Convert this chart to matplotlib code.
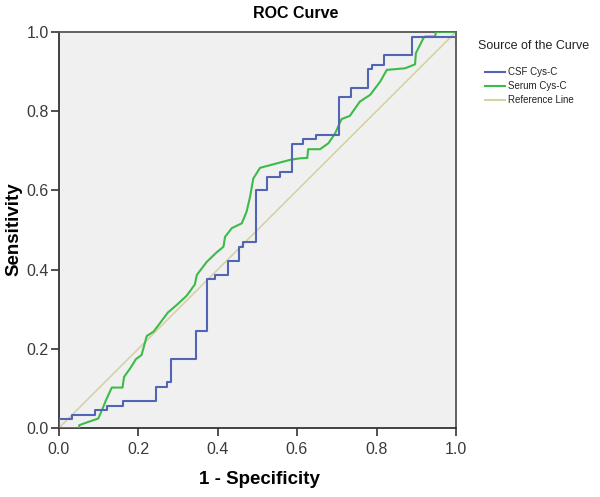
import matplotlib
matplotlib.use("Agg")
import matplotlib.pyplot as plt
from matplotlib.lines import Line2D

# CSF Cys-C ROC (step vertices: at x the curve rises to y)
csf_x = [0, 0, 0.033, 0.092, 0.123, 0.163, 0.245, 0.272, 0.282, 0.345, 0.374, 0.394,
         0.426, 0.455, 0.465, 0.497, 0.525, 0.557, 0.587, 0.616, 0.648, 0.706, 0.736,
         0.778, 0.788, 0.820, 0.890, 1.0]
csf_y = [0, 0.023, 0.034, 0.046, 0.056, 0.070, 0.104, 0.118, 0.175, 0.245, 0.376, 0.387,
         0.422, 0.458, 0.471, 0.600, 0.635, 0.647, 0.717, 0.729, 0.741, 0.836, 0.859,
         0.905, 0.916, 0.941, 0.988, 1.0]

# Serum Cys-C ROC
serum_x = [0, 0.052, 0.052, 0.071, 0.100, 0.104, 0.113, 0.119, 0.134, 0.161, 0.165, 0.180,
           0.195, 0.209, 0.222, 0.239, 0.255, 0.275, 0.297, 0.322, 0.343, 0.348, 0.373,
           0.398, 0.415, 0.419, 0.436, 0.461, 0.473, 0.482, 0.490, 0.507, 0.582, 0.607,
           0.626, 0.628, 0.658, 0.679, 0.696, 0.712, 0.733, 0.758, 0.784, 0.809, 0.826,
           0.872, 0.897, 0.899, 0.918, 0.922, 0.947, 0.950, 1.0]
serum_y = [0, 0, 0.008, 0.015, 0.025, 0.034, 0.055, 0.070, 0.103, 0.103, 0.130, 0.151,
           0.175, 0.185, 0.233, 0.244, 0.265, 0.292, 0.311, 0.334, 0.363, 0.387, 0.420,
           0.444, 0.458, 0.483, 0.505, 0.517, 0.546, 0.584, 0.630, 0.657, 0.677, 0.681,
           0.682, 0.704, 0.704, 0.719, 0.744, 0.780, 0.788, 0.824, 0.841, 0.874, 0.904,
           0.908, 0.918, 0.946, 0.984, 0.988, 0.988, 1.0, 1.0]

ref_x = [0, 1]
ref_y = [0, 1]

ticks = [0.0, 0.2, 0.4, 0.6, 0.8, 1.0]
tick_labels = ["0.0", "0.2", "0.4", "0.6", "0.8", "1.0"]
series_names = ["CSF Cys-C", "Serum Cys-C", "Reference Line"]

plt.rcParams['font.family'] = ['Liberation Sans', 'DejaVu Sans']

c_blue = "#5265b5"
c_green = "#3dbb4a"
c_ref = "#d6d2a4"

W, H = 600, 497
fig = plt.figure(figsize=(6.0, 4.97), dpi=100)
ax = fig.add_axes([0.0975, 0.138, 0.6625, 0.798])
ax.set_facecolor("#f0f0f0")

ax.plot(ref_x, ref_y, color=c_ref, lw=1.2, zorder=2)
ax.plot(serum_x, serum_y, color=c_green, lw=1.5, zorder=3)
ax.plot(csf_x, csf_y, color=c_blue, lw=1.5, drawstyle="steps-post", zorder=4)

ax.set_xlim(0, 1)
ax.set_ylim(0, 1)
ax.set_xticks(ticks)
ax.set_xticklabels(tick_labels)
ax.set_yticks(ticks)
ax.set_yticklabels(tick_labels)
ax.tick_params(direction="out", length=6, width=1.2, color="#333333",
               labelsize=11.5, labelcolor="#3a3a3a")
ax.tick_params(axis="x", pad=4)
ax.tick_params(axis="y", pad=1)
for s in ax.spines.values():
    s.set_color("#555555")
    s.set_linewidth(1.3)
ax.spines["left"].set_color("#333333")
ax.spines["bottom"].set_color("#333333")

fig.text(296 / W, 1 - 14 / H, "ROC Curve", fontsize=11.5, fontweight="bold",
         ha="center", va="center")
fig.text(259 / W, 1 - 480 / H, "1 - Specificity", fontsize=13.5, fontweight="bold",
         ha="center", va="center")
fig.text(14 / W, 1 - 229 / H, "Sensitivity", fontsize=13.5, fontweight="bold",
         ha="center", va="center", rotation=90)

# Legend (drawn manually in figure pixels)
fig.text(478 / W, 1 - 46 / H, "Source of the Curve", fontsize=9, va="center", ha="left",
         color="#222222")
colors = [c_blue, c_green, c_ref]
ys = [72, 86, 100]
for name, col, yy in zip(series_names, colors, ys):
    fig.add_artist(Line2D([485 / W, 505 / W], [1 - yy / H, 1 - yy / H], color=col, lw=1.5,
                          transform=fig.transFigure))
    fig.text(508 / W, 1 - yy / H, name, fontsize=7, va="center", ha="left", color="#222222")

fig.savefig("out.png", dpi=100)
